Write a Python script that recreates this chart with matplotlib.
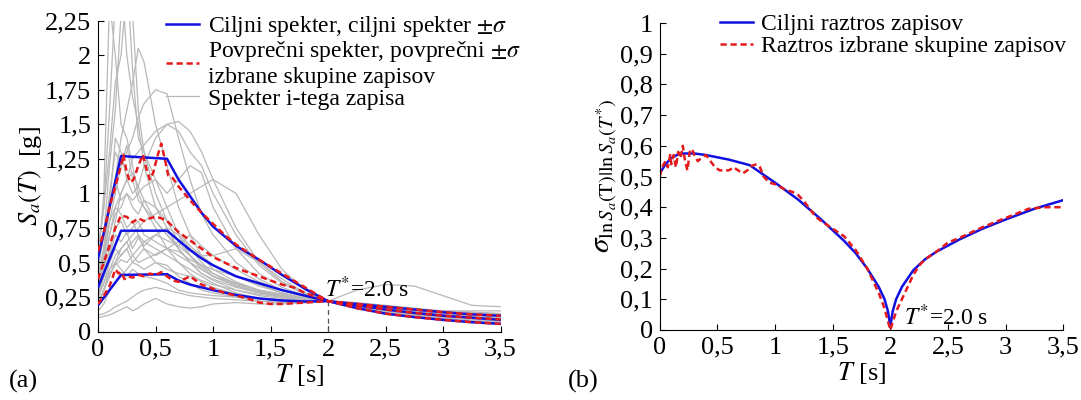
import numpy as np
import matplotlib
matplotlib.use("Agg")
import matplotlib.pyplot as plt
from matplotlib.ticker import FuncFormatter

plt.rcParams["font.family"] = "serif"
plt.rcParams["font.serif"] = ["Liberation Serif", "STIXGeneral", "DejaVu Serif"]
plt.rcParams["mathtext.fontset"] = "stix"
plt.rcParams["font.size"] = 16

# === podatki: (a) spektri ===
T_grid = [0, 0.05, 0.1, 0.15, 0.2, 0.25, 0.3, 0.35, 0.4, 0.5, 0.6, 0.7, 0.8, 0.9,
          1.0, 1.2, 1.4, 1.6, 1.8, 2.0, 2.25, 2.5, 2.75, 3.0, 3.25, 3.5]

rec_01 = [0.55, 0.9, 1.6, 2.4, 2.6, 2.0, 1.7, 1.5, 1.2, 0.9, 0.75, 0.6, 0.5, 0.42, 0.38, 0.32, 0.28, 0.25, 0.23, 0.22, 0.19, 0.16, 0.13, 0.11, 0.10, 0.09]
rec_02 = [0.45, 0.7, 1.2, 1.6, 2.3, 2.6, 1.9, 1.4, 1.3, 1.1, 0.9, 0.7, 0.55, 0.45, 0.4, 0.33, 0.29, 0.26, 0.24, 0.22, 0.18, 0.15, 0.13, 0.11, 0.10, 0.09]
rec_03 = [0.4, 0.6, 0.9, 1.1, 1.4, 1.6, 1.8, 2.05, 1.95, 1.5, 1.2, 0.9, 0.7, 0.55, 0.45, 0.36, 0.3, 0.27, 0.24, 0.22, 0.19, 0.16, 0.14, 0.12, 0.11, 0.10]
rec_04 = [0.35, 0.5, 0.8, 1.0, 1.2, 1.3, 1.4, 1.55, 1.65, 1.75, 1.72, 1.4, 1.1, 0.85, 0.7, 0.5, 0.38, 0.3, 0.25, 0.22, 0.2, 0.17, 0.15, 0.13, 0.12, 0.11]
rec_05 = [0.3, 0.45, 0.7, 0.9, 1.0, 1.1, 1.25, 1.3, 1.35, 1.45, 1.5, 1.52, 1.45, 1.3, 1.1, 0.75, 0.5, 0.36, 0.28, 0.22, 0.18, 0.15, 0.13, 0.12, 0.11, 0.10]
rec_06 = [0.25, 0.4, 0.55, 0.8, 1.0, 1.1, 1.0, 1.05, 1.2, 1.4, 1.5, 1.45, 1.3, 1.2, 1.0, 0.7, 0.48, 0.35, 0.27, 0.22, 0.19, 0.16, 0.14, 0.12, 0.11, 0.10]
rec_07 = [0.35, 0.6, 1.0, 1.3, 1.2, 1.35, 1.1, 0.95, 0.9, 0.8, 0.7, 0.6, 0.5, 0.42, 0.37, 0.3, 0.26, 0.24, 0.22, 0.22, 0.2, 0.17, 0.14, 0.12, 0.1, 0.09]
rec_08 = [0.2, 0.3, 0.4, 0.5, 0.55, 0.6, 0.65, 0.7, 0.6, 0.55, 0.6, 0.65, 0.6, 0.55, 0.55, 0.6, 0.5, 0.38, 0.28, 0.22, 0.18, 0.15, 0.13, 0.11, 0.1, 0.09]
rec_09 = [0.15, 0.2, 0.3, 0.35, 0.4, 0.45, 0.5, 0.48, 0.45, 0.5, 0.48, 0.4, 0.35, 0.3, 0.28, 0.25, 0.22, 0.21, 0.22, 0.22, 0.3, 0.34, 0.33, 0.26, 0.19, 0.18]
rec_10 = [0.1, 0.11, 0.12, 0.14, 0.16, 0.18, 0.15, 0.17, 0.2, 0.24, 0.2, 0.18, 0.17, 0.18, 0.2, 0.21, 0.2, 0.2, 0.21, 0.22, 0.2, 0.17, 0.14, 0.12, 0.1, 0.09]
rec_11 = [0.12, 0.13, 0.15, 0.18, 0.2, 0.22, 0.25, 0.28, 0.3, 0.32, 0.3, 0.28, 0.26, 0.25, 0.24, 0.23, 0.22, 0.21, 0.21, 0.22, 0.2, 0.18, 0.16, 0.15, 0.15, 0.15]
rec_12 = [0.3, 0.4, 0.6, 0.75, 0.8, 0.7, 0.75, 0.8, 0.7, 0.65, 0.6, 0.55, 0.5, 0.45, 0.4, 0.35, 0.3, 0.27, 0.24, 0.22, 0.19, 0.16, 0.14, 0.12, 0.1, 0.09]
rec_13 = [0.25, 0.35, 0.5, 0.6, 0.55, 0.6, 0.5, 0.55, 0.6, 0.5, 0.45, 0.42, 0.4, 0.37, 0.34, 0.3, 0.27, 0.25, 0.23, 0.22, 0.18, 0.15, 0.12, 0.1, 0.08, 0.07]
rec_14 = [0.2, 0.3, 0.45, 0.5, 0.45, 0.4, 0.45, 0.42, 0.4, 0.38, 0.35, 0.3, 0.28, 0.27, 0.26, 0.25, 0.24, 0.23, 0.22, 0.22, 0.18, 0.14, 0.11, 0.09, 0.07, 0.06]
rec_15 = [0.4, 0.6, 0.95, 1.1, 0.95, 1.0, 0.9, 0.85, 0.95, 0.9, 0.8, 0.72, 0.62, 0.55, 0.48, 0.4, 0.33, 0.28, 0.24, 0.22, 0.19, 0.16, 0.14, 0.12, 0.1, 0.09]
rec_16 = [0.2, 0.3, 0.4, 0.5, 0.6, 0.65, 0.7, 0.75, 0.8, 0.85, 0.9, 0.95, 1.0, 1.05, 1.1, 1.0, 0.7, 0.45, 0.3, 0.22, 0.18, 0.15, 0.13, 0.12, 0.11, 0.1]
rec_17 = [0.3, 0.45, 0.7, 0.85, 0.9, 1.0, 0.95, 1.0, 1.05, 1.1, 1.0, 1.1, 1.2, 1.15, 0.9, 0.6, 0.42, 0.32, 0.26, 0.22, 0.2, 0.18, 0.16, 0.14, 0.12, 0.11]
rec_18 = [0.25, 0.35, 0.45, 0.55, 0.6, 0.65, 0.55, 0.6, 0.65, 0.7, 0.75, 0.7, 0.6, 0.5, 0.42, 0.34, 0.3, 0.26, 0.23, 0.22, 0.2, 0.17, 0.15, 0.13, 0.12, 0.11]
rec_19 = [0.3, 0.5, 0.8, 0.9, 0.85, 0.75, 0.8, 0.7, 0.65, 0.6, 0.55, 0.5, 0.45, 0.4, 0.35, 0.28, 0.24, 0.22, 0.21, 0.22, 0.21, 0.19, 0.17, 0.15, 0.14, 0.13]
rec_20 = [0.5, 1.0, 2.4, 2.0, 1.5, 1.4, 1.2, 1.0, 0.9, 0.75, 0.6, 0.5, 0.42, 0.36, 0.32, 0.27, 0.24, 0.22, 0.21, 0.22, 0.2, 0.17, 0.15, 0.13, 0.12, 0.11]
rec_21 = [0.35, 0.55, 0.9, 1.4, 1.3, 1.1, 1.15, 1.05, 0.95, 0.8, 0.7, 0.62, 0.55, 0.48, 0.42, 0.35, 0.29, 0.25, 0.23, 0.22, 0.19, 0.16, 0.13, 0.11, 0.1, 0.09]
rec_22 = [0.6, 0.9, 1.3, 1.8, 2.0, 2.5, 2.3, 1.6, 1.3, 1.0, 0.8, 0.65, 0.55, 0.47, 0.4, 0.33, 0.28, 0.25, 0.23, 0.22, 0.2, 0.17, 0.14, 0.12, 0.11, 0.1]
rec_23 = [0.28, 0.4, 0.55, 0.7, 0.65, 0.72, 0.6, 0.68, 0.62, 0.7, 0.66, 0.62, 0.7, 0.62, 0.55, 0.45, 0.36, 0.3, 0.25, 0.22, 0.2, 0.18, 0.16, 0.15, 0.14, 0.13]
rec_24 = [0.22, 0.3, 0.42, 0.48, 0.52, 0.5, 0.55, 0.5, 0.52, 0.56, 0.6, 0.58, 0.52, 0.48, 0.45, 0.4, 0.34, 0.28, 0.24, 0.22, 0.18, 0.15, 0.12, 0.1, 0.085, 0.075]
records = [rec_01, rec_02, rec_03, rec_04, rec_05, rec_06, rec_07, rec_08, rec_09, rec_10, rec_11, rec_12,
           rec_13, rec_14, rec_15, rec_16, rec_17, rec_18, rec_19, rec_20, rec_21, rec_22, rec_23, rec_24]

# ciljni spekter (mediana in +-sigma)
T_tgt = [0, 0.2, 0.6, 0.7, 0.8, 0.9, 1.0, 1.2, 1.4, 1.6, 1.8, 2.0, 2.25, 2.5, 2.75, 3.0, 3.25, 3.5]
tgt_med = [0.32, 0.73, 0.73, 0.66, 0.59, 0.53, 0.48, 0.40, 0.35, 0.30, 0.26, 0.22, 0.19, 0.16, 0.135, 0.115, 0.10, 0.085]
tgt_hi = [0.53, 1.27, 1.25, 1.10, 0.98, 0.86, 0.76, 0.62, 0.52, 0.41, 0.31, 0.22, 0.20, 0.18, 0.16, 0.14, 0.125, 0.115]
tgt_lo = [0.19, 0.41, 0.415, 0.37, 0.34, 0.32, 0.30, 0.265, 0.24, 0.225, 0.218, 0.22, 0.17, 0.13, 0.105, 0.085, 0.068, 0.056]

# povprecni spekter izbrane skupine
T_mean_hi = [0, 0.05, 0.1, 0.15, 0.2, 0.22, 0.25, 0.28, 0.31, 0.35, 0.39, 0.42, 0.45, 0.48, 0.52, 0.55,
             0.58, 0.61, 0.65, 0.7, 0.75, 0.8, 0.9, 1.0, 1.1, 1.2, 1.4, 1.6, 1.8, 2.0, 2.25, 2.5, 2.75, 3.0, 3.25, 3.5]
mean_hi = [0.58, 0.72, 0.9, 1.05, 1.2, 1.28, 1.15, 1.08, 1.1, 1.2, 1.28, 1.18, 1.1, 1.15, 1.28, 1.36,
           1.25, 1.13, 1.11, 1.05, 1.0, 0.95, 0.86, 0.78, 0.7, 0.63, 0.52, 0.42, 0.32, 0.22, 0.20, 0.18, 0.16, 0.14, 0.125, 0.115]
T_mean_med = [0, 0.05, 0.1, 0.15, 0.2, 0.25, 0.3, 0.35, 0.4, 0.45, 0.5, 0.55, 0.6, 0.65, 0.7, 0.8, 0.9,
              1.0, 1.1, 1.2, 1.4, 1.6, 1.7, 1.8, 2.0, 2.25, 2.5, 2.75, 3.0, 3.25, 3.5]
mean_med = [0.38, 0.5, 0.62, 0.75, 0.84, 0.83, 0.79, 0.82, 0.80, 0.82, 0.83, 0.82, 0.80, 0.76, 0.72, 0.66, 0.60,
            0.54, 0.50, 0.46, 0.40, 0.34, 0.32, 0.28, 0.22, 0.19, 0.16, 0.135, 0.115, 0.10, 0.088]
T_mean_lo = [0, 0.05, 0.1, 0.13, 0.15, 0.18, 0.2, 0.23, 0.26, 0.3, 0.35, 0.4, 0.45, 0.5, 0.55, 0.6, 0.65,
             0.7, 0.75, 0.8, 0.85, 0.9, 1.0, 1.1, 1.2, 1.3, 1.4, 1.5, 1.6, 1.7, 1.8, 1.9, 2.0,
             2.25, 2.5, 2.75, 3.0, 3.25, 3.5]
mean_lo = [0.2, 0.26, 0.33, 0.40, 0.45, 0.42, 0.43, 0.38, 0.40, 0.39, 0.41, 0.40, 0.42, 0.41, 0.43, 0.40, 0.37,
           0.36, 0.38, 0.40, 0.37, 0.34, 0.31, 0.28, 0.26, 0.24, 0.21, 0.20, 0.20, 0.205, 0.21, 0.215, 0.222,
           0.17, 0.13, 0.105, 0.085, 0.068, 0.056]

# === podatki: (b) raztros ===
T_sig_tgt = [0, 0.05, 0.1, 0.15, 0.2, 0.3, 0.4, 0.6, 0.78, 1.0, 1.2, 1.4, 1.6, 1.7, 1.8, 1.9, 1.95, 1.98, 2.0,
             2.02, 2.05, 2.1, 2.2, 2.3, 2.4, 2.6, 2.8, 3.0, 3.25, 3.5]
sig_tgt = [0.51, 0.54, 0.56, 0.57, 0.575, 0.575, 0.57, 0.555, 0.537, 0.48, 0.425, 0.36, 0.29, 0.25, 0.2, 0.14, 0.1, 0.06, 0.01,
           0.06, 0.1, 0.14, 0.195, 0.23, 0.255, 0.295, 0.33, 0.36, 0.395, 0.423]
T_sig_sel = [0, 0.02, 0.05, 0.07, 0.09, 0.1, 0.12, 0.14, 0.16, 0.18, 0.2, 0.22, 0.24, 0.26, 0.28, 0.3, 0.33,
             0.36, 0.4, 0.44, 0.48, 0.52, 0.56, 0.6, 0.64, 0.68, 0.72, 0.76, 0.8, 0.84, 0.87, 0.9, 0.95,
             1.0, 1.05, 1.1, 1.15, 1.2, 1.25, 1.3, 1.35, 1.4, 1.5, 1.6, 1.7, 1.8, 1.9, 1.95, 2.0,
             2.05, 2.1, 2.15, 2.2, 2.25, 2.3, 2.4, 2.5, 2.6, 2.8, 3.0, 3.2, 3.35, 3.5]
sig_sel = [0.50, 0.53, 0.55, 0.53, 0.57, 0.54, 0.57, 0.53, 0.58, 0.56, 0.60, 0.55, 0.52, 0.58, 0.59, 0.57, 0.55,
           0.56, 0.57, 0.55, 0.53, 0.52, 0.52, 0.52, 0.53, 0.52, 0.51, 0.52, 0.535, 0.54, 0.53, 0.50, 0.48,
           0.475, 0.465, 0.455, 0.45, 0.44, 0.42, 0.395, 0.37, 0.355, 0.33, 0.305, 0.26, 0.20, 0.12, 0.07, 0.0,
           0.06, 0.10, 0.14, 0.18, 0.21, 0.23, 0.255, 0.285, 0.30, 0.335, 0.365, 0.395, 0.40, 0.40]


def comma(v, _):
    s = f"{v:.2f}".rstrip("0").rstrip(".")
    return s.replace(".", ",")


fig = plt.figure(figsize=(10.81, 4.0), dpi=100)
ax1 = fig.add_axes([0.0907, 0.171, 0.3723, 0.7775])
ax2 = fig.add_axes([0.6103, 0.175, 0.3733, 0.7675])

BLUE = "#1010e0"
RED = "#e41a1c"
GRAY = "#b8b8b8"
DASH = (0, (2.5, 1.5))

# --- (a) ---
for i, rec in enumerate(records):
    ax1.plot(T_grid, rec, color=GRAY, lw=0.9, label="Spekter i-tega zapisa" if i == 0 else None, zorder=1)
ax1.plot(T_tgt, tgt_med, color=BLUE, lw=1.8, zorder=3, label=r"Ciljni spekter, ciljni spekter $\pm\sigma$")
ax1.plot(T_tgt, tgt_hi, color=BLUE, lw=1.8, zorder=3)
ax1.plot(T_tgt, tgt_lo, color=BLUE, lw=1.8, zorder=3)
ax1.plot(T_mean_med, mean_med, color=RED, lw=1.8, ls=DASH, zorder=4,
         label="Povprečni spekter, povprečni $\\pm\\sigma$\nizbrane skupine zapisov")
ax1.plot(T_mean_hi, mean_hi, color=RED, lw=1.8, ls=DASH, zorder=4)
ax1.plot(T_mean_lo, mean_lo, color=RED, lw=1.8, ls=DASH, zorder=4)
ax1.plot([2, 2], [0, 0.22], color="#555555", lw=0.9, ls=(0, (4, 3)), zorder=2)
ax1.text(1.97, 0.25, r"$T^{*}$=2.0 s", fontsize=17)

ax1.set_xlim(0, 3.5)
ax1.set_ylim(0, 2.25)
ax1.set_xticks(np.arange(0, 3.51, 0.5))
ax1.set_yticks(np.arange(0, 2.26, 0.25))
ax1.set_xlabel(r"$T$ [s]", fontsize=19, labelpad=1)
ax1.set_ylabel(r"$S_a(T)$  [g]", fontsize=19, labelpad=1)

h, l = ax1.get_legend_handles_labels()
order = [1, 2, 0]
ax1.legend([h[k] for k in order], [l[k] for k in order], loc="upper left",
           bbox_to_anchor=(0.143, 0.995), bbox_transform=fig.transFigure, frameon=False,
           fontsize=17, handlelength=1.4, handletextpad=0.35, labelspacing=0.0, borderpad=0)

# --- (b) ---
ax2.plot(T_sig_tgt, sig_tgt, color=BLUE, lw=1.8, label="Ciljni raztros zapisov")
ax2.plot(T_sig_sel, sig_sel, color=RED, lw=1.8, ls=DASH, label="Raztros izbrane skupine zapisov")
ax2.text(2.12, 0.015, r"$T^{*}$=2.0 s", fontsize=17)
ax2.set_xlim(0, 3.5)
ax2.set_ylim(0, 1)
ax2.set_xticks(np.arange(0, 3.51, 0.5))
ax2.set_yticks(np.arange(0, 1.01, 0.1))
ax2.set_xlabel(r"$T$ [s]", fontsize=19, labelpad=1)
ax2.set_ylabel(r"$\sigma_{\ln S_a(\mathrm{T})|\ln S_a(T^{*})}$", fontsize=21, labelpad=0)
ax2.legend(loc="upper left", bbox_to_anchor=(0.655, 0.995), bbox_transform=fig.transFigure,
           frameon=False, fontsize=17, handlelength=1.4, handletextpad=0.35, labelspacing=0.0, borderpad=0)

for ax in (ax1, ax2):
    ax.spines["top"].set_visible(False)
    ax.spines["right"].set_visible(False)
    ax.tick_params(direction="in", length=4, labelsize=19, pad=5)
    ax.xaxis.set_major_formatter(FuncFormatter(comma))
    ax.yaxis.set_major_formatter(FuncFormatter(comma))

fig.text(0.008, 0.03, "(a)", fontsize=19)
fig.text(0.525, 0.03, "(b)", fontsize=19)

plt.savefig("out.png", dpi=100)
